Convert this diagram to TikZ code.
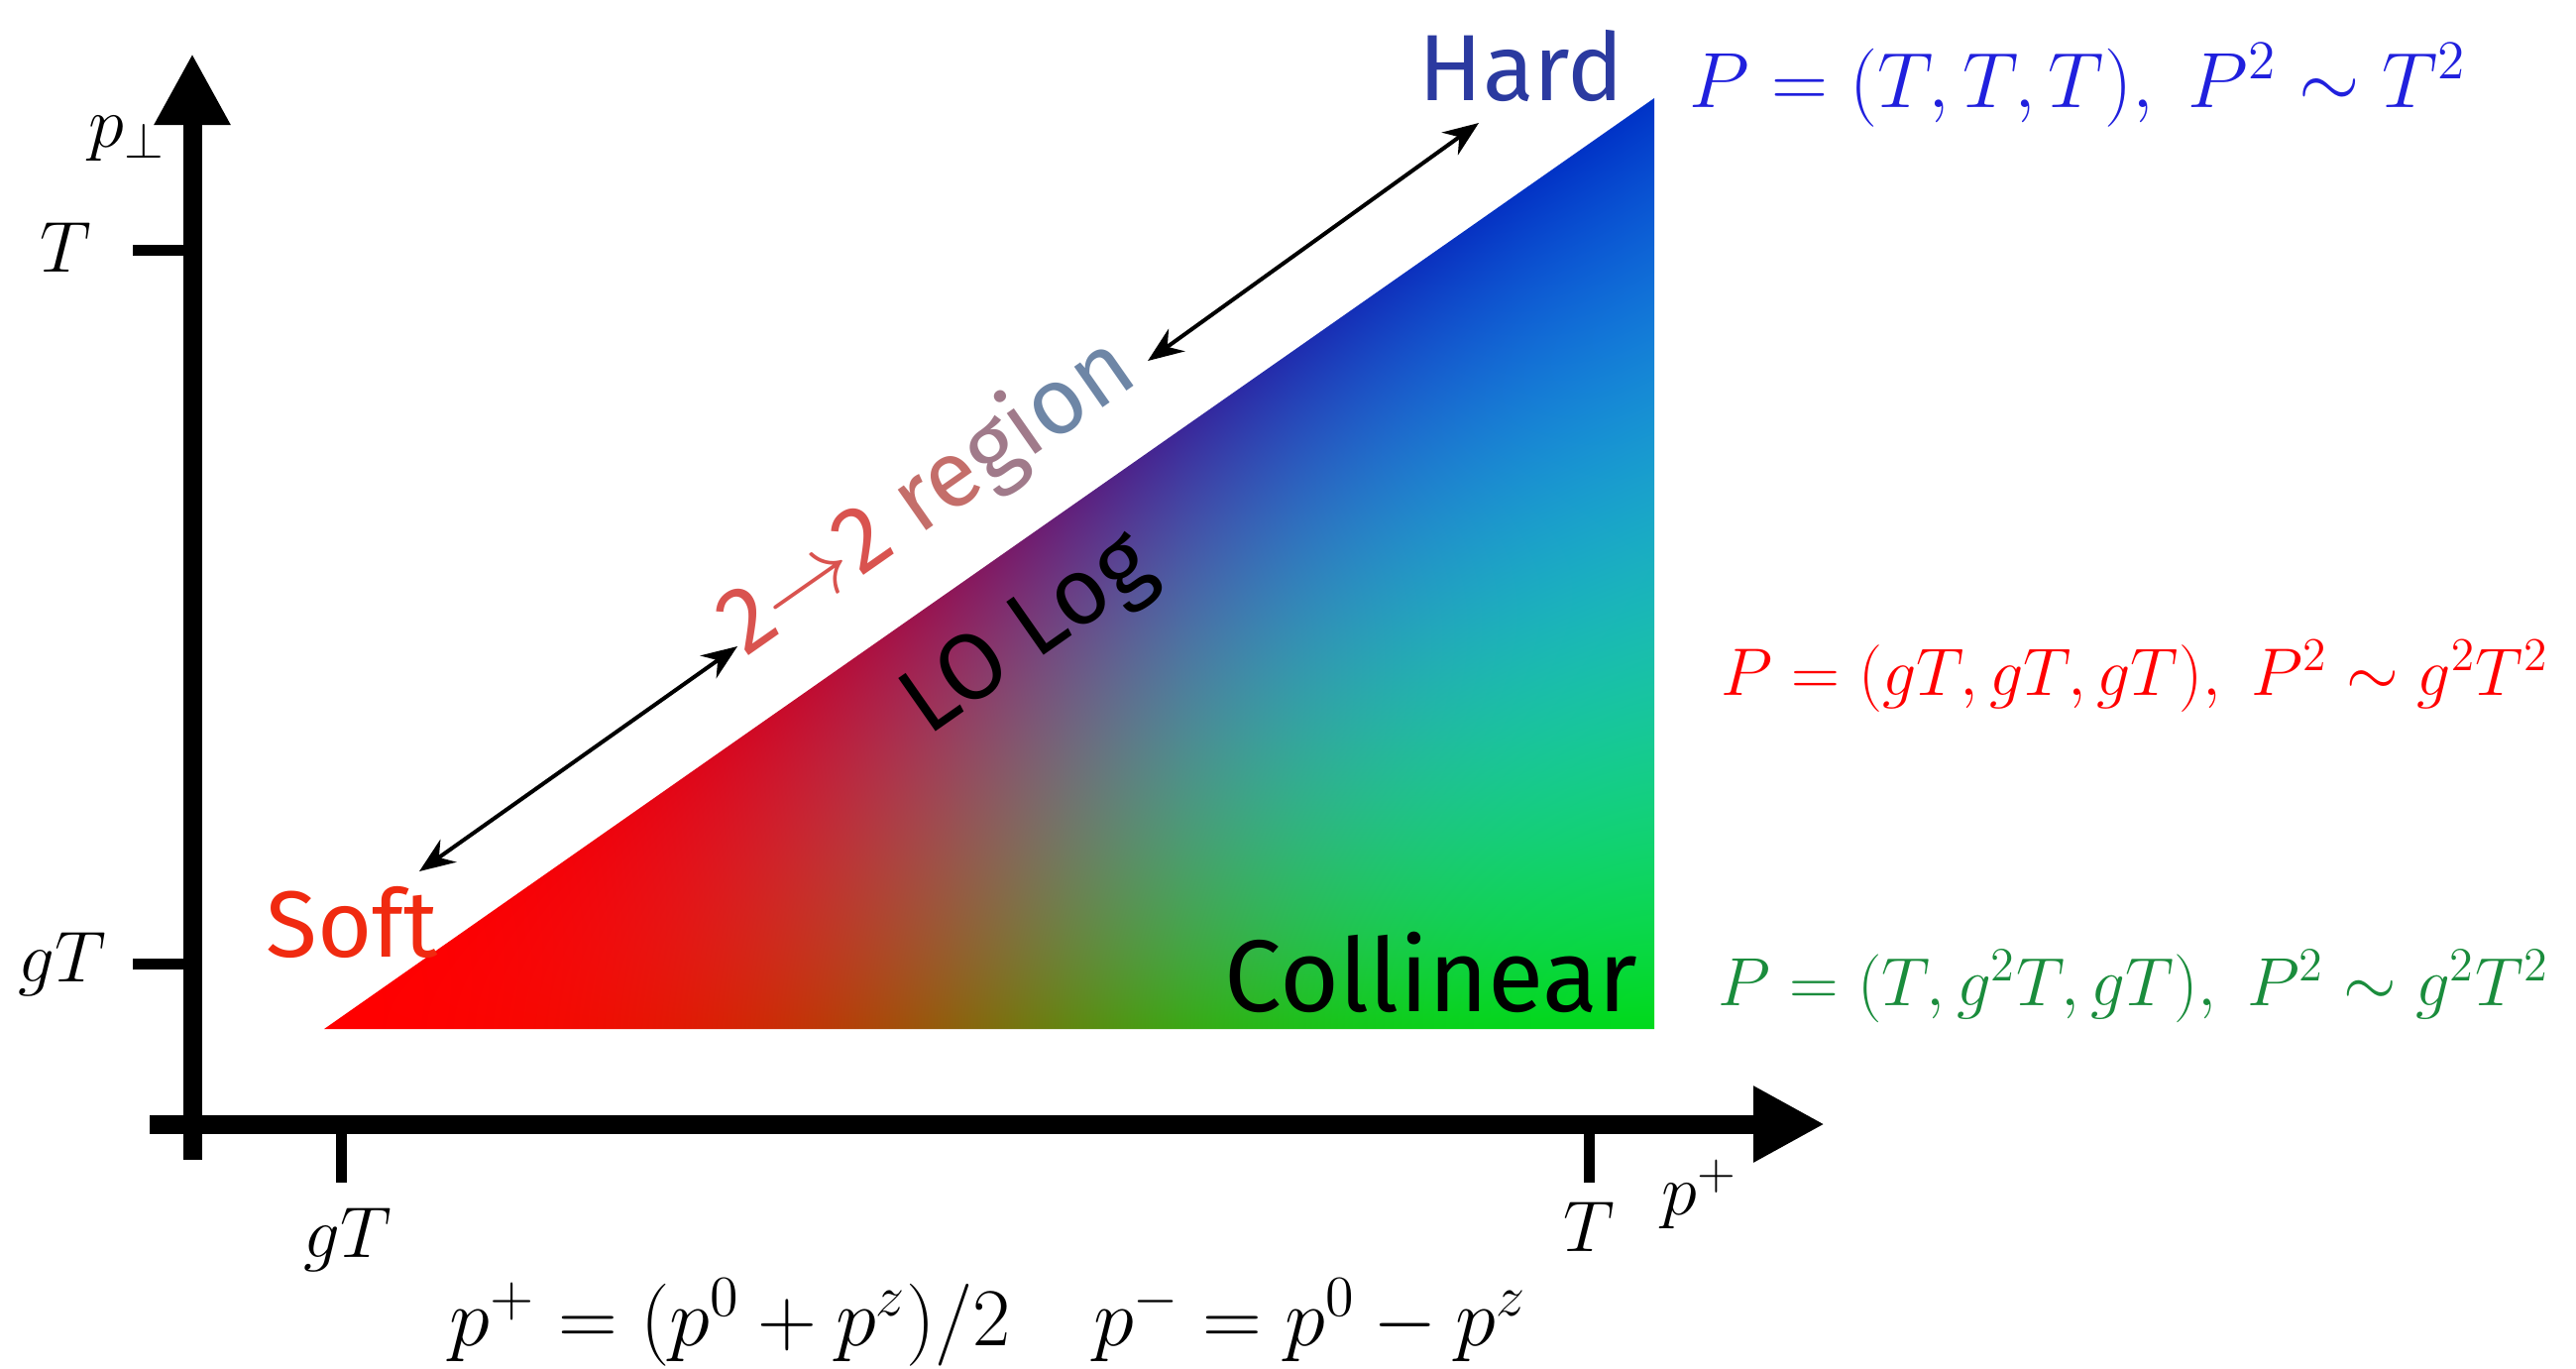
\RequirePackage{fix-cm}
\documentclass[tikz,border=0pt]{standalone}
\usepackage{amsmath}
\usepackage{fontspec}
\newfontfamily\handfont{Fira Sans}
\usetikzlibrary{arrows.meta}

\definecolor{hardblue}{HTML}{2B3AA0}
\definecolor{softred}{HTML}{F02A10}
\definecolor{formblue}{HTML}{2020DD}
\definecolor{formred}{HTML}{FF0000}
\definecolor{formgreen}{HTML}{1A8C3C}

% red from the soft corner, green -> teal -> blue up the right edge
\pgfdeclarefunctionalshading{regionshade}{\pgfpoint{0bp}{0bp}}{\pgfpoint{100bp}{100bp}}{}{
  25 sub 50 div
  exch 25 sub 50 div
  exch 1 index 0.0001 add div
  dup 1 gt {pop 1} if dup 0 lt {pop 0} if
  exch dup dup mul exch 1 exch sub dup mul
  dup 3 -1 roll add div
  1 1 index sub
  2 index dup 1 exch sub mul 0.4 mul 1 index mul 2 index add
  3 index dup dup mul -0.66 mul exch 0.01 mul add 0.85 add 2 index mul
  4 index dup dup mul -1.24 mul exch 1.92 mul add 0.1 add 3 index mul
  6 3 roll pop pop pop
}

\begin{document}
\begin{tikzpicture}[x=0.1mm, y=-0.1mm,
    axis/.style={line width=1.9mm, -{Triangle[length=7.2mm, width=7.2mm]}},
    tickmark/.style={line width=1.1mm},
    span/.style={line width=0.4mm, {Stealth[length=3.6mm, width=2.8mm]}-{Stealth[length=3.6mm, width=2.8mm]}},
    hand/.style={font=\handfont\fontsize{27}{30}\selectfont},
    lbl/.style={font=\fontsize{20.7}{25}\selectfont},
    eqn/.style={anchor=west, inner sep=0pt}]

    \useasboundingbox (0,0) rectangle (2599,1380);

    % corners of the shaded region
    \coordinate (soft) at (327,1038);
    \coordinate (coll) at (1669,1038);
    \coordinate (hard) at (1669,99);

    \shade[shading=regionshade] (soft) -- (coll) -- (hard) -- cycle;

    % axes
    \coordinate (y_low)  at (194,1170);
    \coordinate (y_high) at (194,54);
    \coordinate (x_low)  at (151,1134);
    \coordinate (x_high) at (1841,1134);
    \draw[axis] (y_low) -- (y_high);
    \draw[axis] (x_low) -- (x_high);

    % ticks
    \draw[tickmark] (134,252) -- (194,252);
    \draw[tickmark] (134,972) -- (194,972);
    \draw[tickmark] (344,1134) -- (344,1193);
    \draw[tickmark] (1603,1134) -- (1603,1193);

    % axis labels
    \node[lbl] (pperp) at (128,140) {$p_\perp$};
    \node[lbl] (yT)  at (66,250)  {$T$};
    \node[lbl] (ygT) at (63,973)  {$gT$};
    \node[lbl] (xgT) at (351,1251) {$gT$};
    \node[lbl] (xT)  at (1603,1238) {$T$};
    \node[lbl] (pplus) at (1715,1205) {$p^+$};
    \node[font=\fontsize{23.6}{28}\selectfont] (lcdef) at (997,1334)
        {$p^+=(p^0+p^z)/2\quad p^-=p^0-p^z$};

    % region names
    \node[hand, hardblue] (hardlbl) at (1535,66) {Hard};
    \node[hand, softred]  (softlbl) at (355,930) {Soft};
    \node[hand, black, font=\handfont\fontsize{29.3}{30}\selectfont] (colllbl) at (1444,981) {Collinear};
    \node[hand, black, rotate=35] (lolbl) at (1039,643) {LO Log};
    \node[hand, rotate=35] (twolbl) at (936,502)
        {\textcolor[HTML]{D9534F}{2$\to$2} \textcolor[HTML]{C46E6A}{re}\textcolor[HTML]{A07A8A}{gi}\textcolor[HTML]{6E86A6}{on}};

    % arrows along the edge
    \coordinate (up_a) at (1158,364);
    \coordinate (up_b) at (1492,124);
    \coordinate (lo_a) at (744,652);
    \coordinate (lo_b) at (423,879);
    \draw[span] (up_a) -- (up_b);
    \draw[span] (lo_a) -- (lo_b);

    % momentum scalings
    \node[eqn, formblue, font=\fontsize{22.5}{27}\selectfont]  (hardP) at (1704,86)
        {$P=(T,T,T),\;P^2\sim T^2$};
    \node[eqn, formred, font=\fontsize{19.3}{23}\selectfont]   (softP) at (1736,682)
        {$P=(gT,gT,gT),\;P^2\sim g^2T^2$};
    \node[eqn, formgreen, font=\fontsize{19.6}{23}\selectfont] (collP) at (1733,995)
        {$P=(T,g^2T,gT),\;P^2\sim g^2T^2$};

\end{tikzpicture}
\end{document}
